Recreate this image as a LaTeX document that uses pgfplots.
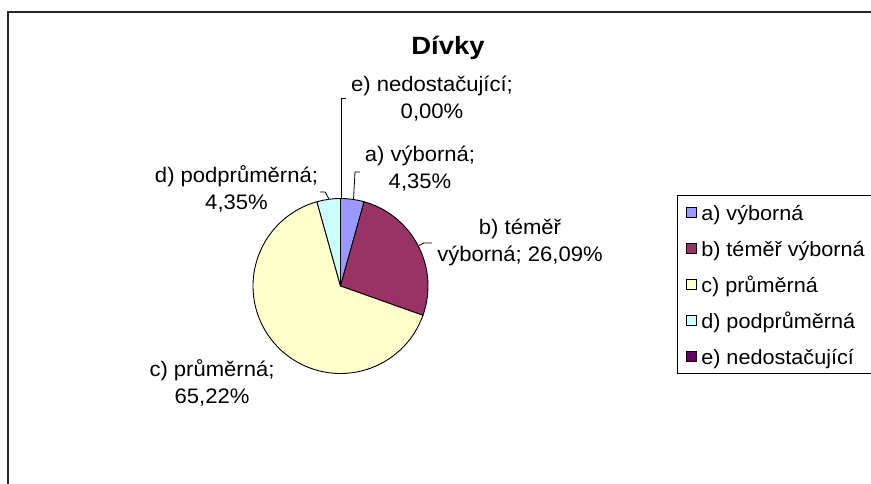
\documentclass[border=0pt]{standalone}
\usepackage{pgfplots}
\pgfplotsset{compat=1.18}
\usepackage{fontspec}
\setmainfont{Liberation Sans}[FakeStretch=1.05]
\newfontfamily\lbl{Liberation Sans}[FakeStretch=1.05]
\newfontfamily\ttl{Liberation Sans}[FakeStretch=1.1]
\definecolor{cA}{HTML}{9999FF}
\definecolor{cB}{HTML}{993366}
\definecolor{cC}{HTML}{FFFFCC}
\definecolor{cD}{HTML}{CCFFFF}
\definecolor{cE}{HTML}{660066}
\newcommand{\lab}{\lbl\fontsize{21bp}{27bp}\selectfont}
% slice: start percent, value percent, colour
\newcommand{\slice}[3]{%
  \filldraw[fill=#3, draw=black, line width=0.9bp, line join=round]
    (axis cs:340.5,198) -- ++({90-3.6*#1}:87.5bp)
    arc[start angle={90-3.6*#1}, end angle={90-3.6*(#1+#2)}, radius=87.5bp] -- cycle;}
\begin{document}
\begin{tikzpicture}
\path[use as bounding box, clip] (0,0) rectangle (871bp,484bp);
\begin{axis}[
  at={(0,0)}, anchor=south west,
  scale only axis, width=871bp, height=484bp,
  xmin=0, xmax=871, ymin=0, ymax=484,
  hide axis, clip=false,
  legend image code/.code={\draw[#1, line width=0.7bp] (0bp,-5bp) rectangle (10bp,5bp);
    \path (13bp,0bp);},
  legend cell align=left,
  legend style={at={(axis cs:677,289)}, anchor=north west, draw=black, line width=0.9bp,
    font=\lbl\fontsize{20.6bp}{24bp}\selectfont, inner xsep=9bp, inner ysep=4bp,
    row sep=10bp,
    nodes={inner sep=1bp, text height=20.5bp, text depth=3.5bp}},
]
% outer frame
\draw[line width=2bp, black!85] (axis cs:8,-10) -- (axis cs:8,472) -- (axis cs:890,472);
% pie slices: a 4.35, b 26.09, c 65.22, d 4.35, e 0.00
\slice{0}{4.35}{cA}
\slice{4.35}{26.09}{cB}
\slice{30.44}{65.22}{cC}
\slice{95.66}{4.34}{cD}
\slice{100}{0}{cE}
\addlegendimage{fill=cA, draw=black}\addlegendentry{a) výborná}
\addlegendimage{fill=cB, draw=black}\addlegendentry{b) téměř výborná}
\addlegendimage{fill=cC, draw=black}\addlegendentry{c) průměrná}
\addlegendimage{fill=cD, draw=black}\addlegendentry{d) podprůměrná}
\addlegendimage{fill=cE, draw=black}\addlegendentry{e) nedostačující}
% leader lines
\draw[line width=0.8bp] (axis cs:346,386) -- (axis cs:341.5,386) -- (axis cs:341.5,285.5);
\draw[line width=0.8bp] (axis cs:360,312) -- (axis cs:355,312) -- (axis cs:353.5,284.5);
\draw[line width=0.8bp] (axis cs:320,292) -- (axis cs:325,292) -- (axis cs:329,285);
\draw[line width=0.8bp] (axis cs:432,241) -- (axis cs:424,241) -- (axis cs:419,238.5);
% title
\node[font=\ttl\bfseries\fontsize{25bp}{28bp}\selectfont] at (axis cs:448,436) {Dívky};
% data labels
\node[font=\lab, align=center] at (axis cs:432,385.5) {e) nedostačující;\\0,00\%};
\node[font=\lab, align=center] at (axis cs:420,315.5) {a) výborná;\\4,35\%};
\node[font=\lab, align=center] at (axis cs:236.5,295) {d) podprůměrná;\\4,35\%};
\node[font=\lab, align=center] at (axis cs:520,241.5) {b) téměř\\výborná; 26,09\%};
\node[font=\lab, align=center] at (axis cs:212,101.5) {c) průměrná;\\65,22\%};
\end{axis}
\end{tikzpicture}
\end{document}
